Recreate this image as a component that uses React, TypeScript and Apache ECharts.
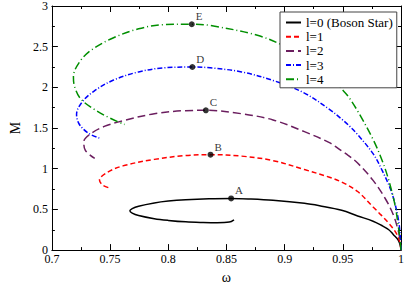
import React, { useEffect, useRef } from "react";
import * as echarts from "echarts";

const seriesNames = ["l=0 (Boson Star)", "l=1", "l=2", "l=3", "l=4"];
const seriesColors = ["#000000", "#ff0000", "#6b1e5f", "#0000ff", "#008f00"];

const l0: [number, number][] = [
  [1.0, 0.0], [0.9995, 0.05], [0.9976, 0.124], [0.9935, 0.19], [0.9895, 0.25],
  [0.983, 0.305], [0.976, 0.355], [0.9627, 0.42], [0.949, 0.49], [0.93, 0.545],
  [0.917, 0.575], [0.89, 0.612], [0.87, 0.628], [0.854, 0.635], [0.835, 0.632],
  [0.815, 0.62], [0.8, 0.603], [0.788, 0.58], [0.7745, 0.54], [0.769, 0.51],
  [0.767, 0.483], [0.769, 0.455], [0.7745, 0.425], [0.788, 0.386], [0.8, 0.365],
  [0.815, 0.347], [0.83, 0.339], [0.842, 0.336], [0.8524, 0.344], [0.8565, 0.372],
];

const l1: [number, number][] = [
  [1.0, 0.0], [0.9992, 0.08], [0.9976, 0.16], [0.994, 0.25], [0.9895, 0.33],
  [0.983, 0.43], [0.976, 0.53], [0.9627, 0.72], [0.95, 0.83], [0.9385, 0.895],
  [0.917, 0.99], [0.89, 1.1], [0.863, 1.155], [0.8363, 1.173], [0.8148, 1.162],
  [0.788, 1.115], [0.761, 1.035], [0.7476, 0.955], [0.7409, 0.86], [0.7435, 0.8],
  [0.7502, 0.76],
];

const l2: [number, number][] = [
  [1.0, 0.0], [0.9992, 0.12], [0.9976, 0.24], [0.9935, 0.43], [0.9868, 0.625],
  [0.976, 0.857], [0.9627, 1.07], [0.9546, 1.165], [0.949, 1.22], [0.9385, 1.32],
  [0.917, 1.456], [0.89, 1.6], [0.863, 1.676], [0.8323, 1.718], [0.8148, 1.714],
  [0.788, 1.676], [0.761, 1.59], [0.745, 1.52], [0.734, 1.436], [0.7274, 1.33],
  [0.7288, 1.224], [0.7368, 1.127],
];

const l3: [number, number][] = [
  [1.0, 0.0], [0.9992, 0.2], [0.9976, 0.39], [0.9922, 0.7], [0.9841, 0.97],
  [0.976, 1.185], [0.9627, 1.42], [0.9546, 1.54], [0.949, 1.61], [0.9385, 1.73],
  [0.917, 1.93], [0.89, 2.085], [0.863, 2.19], [0.836, 2.24], [0.8207, 2.25],
  [0.796, 2.24], [0.7745, 2.19], [0.753, 2.09], [0.7368, 1.96], [0.726, 1.82],
  [0.7212, 1.668], [0.7234, 1.55], [0.7315, 1.436], [0.742, 1.37],
];

const l4: [number, number][] = [
  [1.0, 0.0], [0.999, 0.16], [0.9976, 0.3], [0.9949, 0.55], [0.9895, 0.857],
  [0.9841, 1.09], [0.976, 1.36], [0.9627, 1.71], [0.9546, 1.89], [0.949, 1.98],
  [0.9438, 2.06], [0.93, 2.22], [0.917, 2.36], [0.9008, 2.5], [0.8766, 2.64],
  [0.8363, 2.76], [0.8202, 2.776], [0.796, 2.77], [0.7745, 2.72], [0.753, 2.61],
  [0.734, 2.46], [0.7234, 2.305], [0.7185, 2.13], [0.7194, 2.015], [0.7247, 1.86],
  [0.7368, 1.726], [0.7502, 1.62], [0.7624, 1.544],
];

const seriesData = [l0, l1, l2, l3, l4];
const seriesDash: (string | number[])[] = ["solid", [5, 3], [8, 4], [5, 2, 1, 2], [8, 3, 1, 3]];

const markerNames = ["A", "B", "C", "D", "E"];
const markerOmega = [0.854, 0.8363, 0.8323, 0.8207, 0.8202];
const markerMass = [0.635, 1.173, 1.718, 2.25, 2.776];

const xMin = 0.7;
const xMax = 1.0;
const xStep = 0.05;
const yMin = 0;
const yMax = 3;
const yStep = 0.5;

const FONT = "Liberation Serif, Times New Roman, DejaVu Serif, serif";

export default function App() {
  const ref = useRef<HTMLDivElement>(null);

  useEffect(() => {
    if (!ref.current) return;
    const chart = echarts.init(ref.current, undefined, { renderer: "svg" });

    const axisCommon = {
      type: "value" as const,
      axisLine: { show: true, onZero: false, lineStyle: { color: "#000", width: 1 } },
      axisTick: { show: true, inside: true, length: 6, lineStyle: { color: "#000", width: 1 } },
      minorTick: { show: true, splitNumber: 2, length: 3, lineStyle: { color: "#000", width: 1 } },
      splitLine: { show: false },
      minorSplitLine: { show: false },
    };

    const fmt = (v: number) => String(Math.round(v * 1000) / 1000);

    const option: any = {
      animation: false,
      backgroundColor: "#ffffff",
      textStyle: { fontFamily: FONT },
      grid: { left: 31, right: 4, top: 5, bottom: 25, containLabel: false },
      xAxis: [
        {
          ...axisCommon,
          position: "bottom",
          min: xMin,
          max: xMax,
          interval: xStep,
          axisLabel: { color: "#000", fontFamily: FONT, fontSize: 12, margin: 3, formatter: fmt },
          name: "ω",
          nameLocation: "middle",
          nameGap: 18,
          nameTextStyle: { color: "#000", fontFamily: FONT, fontSize: 14 },
        },
        {
          ...axisCommon,
          position: "top",
          min: xMin,
          max: xMax,
          interval: xStep,
          axisLabel: { show: false },
        },
      ],
      yAxis: [
        {
          ...axisCommon,
          position: "left",
          min: yMin,
          max: yMax,
          interval: yStep,
          axisLabel: { color: "#000", fontFamily: FONT, fontSize: 12, margin: 4, formatter: fmt },
          name: "M",
          nameLocation: "middle",
          nameGap: 23,
          nameRotate: 90,
          nameTextStyle: { color: "#000", fontFamily: FONT, fontSize: 14 },
        },
        {
          ...axisCommon,
          position: "right",
          min: yMin,
          max: yMax,
          interval: yStep,
          axisLabel: { show: false },
        },
      ],
      legend: {
        data: seriesNames,
        orient: "vertical",
        left: 280,
        top: 12,
        itemWidth: 15,
        itemHeight: 12,
        itemGap: 1.2,
        itemTextGap: 7,
        padding: [4, 4, 2, 5],
        borderColor: "#444",
        borderWidth: 1,
        borderRadius: 0,
        backgroundColor: "#ffffff",
        itemStyle: { opacity: 0 },
        textStyle: { color: "#000", fontFamily: FONT, fontSize: 13, lineHeight: 12 },
      },
      series: [
        ...seriesNames.map((name, i) => ({
          name,
          type: "line",
          xAxisIndex: 0,
          yAxisIndex: 0,
          data: seriesData[i],
          showSymbol: false,
          symbol: "none",
          smooth: 0.35,
          itemStyle: { color: seriesColors[i] },
          lineStyle: { color: seriesColors[i], width: 1.5, type: seriesDash[i] },
          z: 2,
        })),
        {
          name: "points",
          type: "scatter",
          xAxisIndex: 0,
          yAxisIndex: 0,
          symbolSize: 6,
          itemStyle: { color: "#000" },
          data: markerNames.map((n, i) => ({ name: n, value: [markerOmega[i], markerMass[i]] })),
          label: {
            show: true,
            formatter: (p: any) => p.name,
            position: "right",
            distance: 1,
            offset: [0, -8],
            color: "#000",
            fontFamily: FONT,
            fontSize: 11,
          },
          z: 3,
        },
      ],
    };

    chart.setOption(option);
    return () => chart.dispose();
  }, []);

  return (
    <div
      ref={ref}
      style={{ position: "fixed", left: 0, top: 0, width: 407, height: 289, background: "#fff" }}
    />
  );
}
